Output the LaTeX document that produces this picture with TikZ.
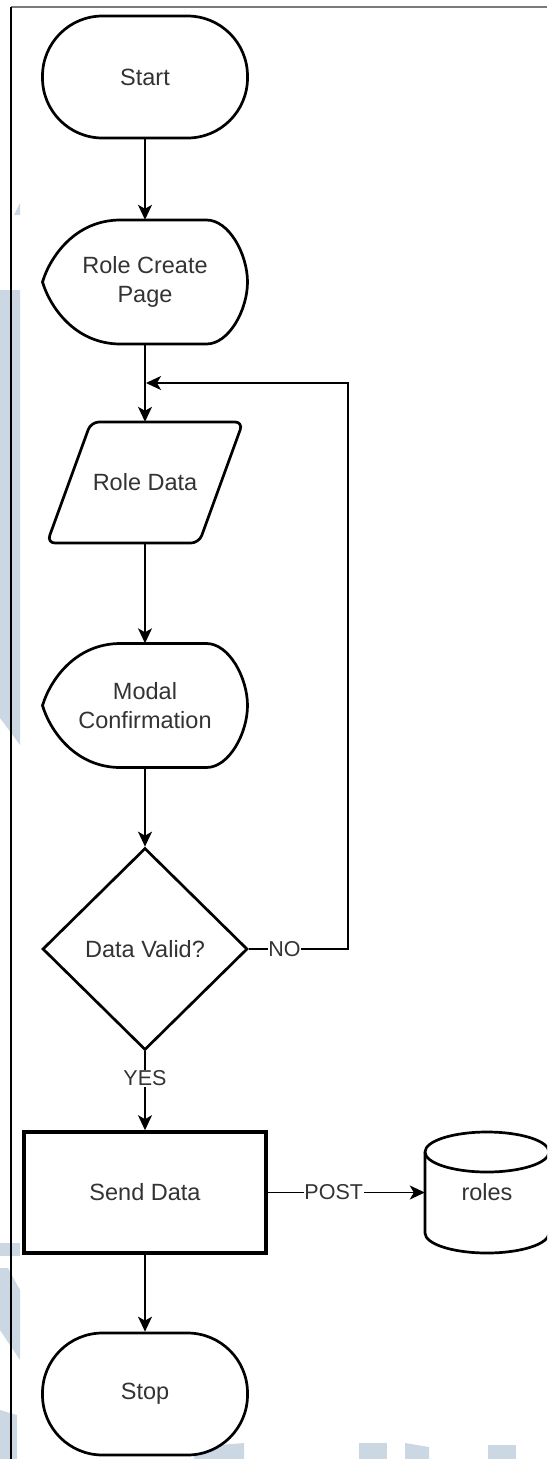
\documentclass[tikz,border=0pt]{standalone}
\usepackage{fontspec}
\setmainfont{Liberation Sans}
\usetikzlibrary{arrows.meta,shapes.geometric}
\definecolor{txtc}{HTML}{333333}
\definecolor{wmc}{HTML}{CBD7E2}
\definecolor{framec}{HTML}{7A7A7A}
\tikzset{
  outline/.style={line width=2.7pt, draw=black, fill=white, line join=round},
  conn/.style={line width=1.8pt, draw=black, -{Stealth[length=15pt,width=14pt,inset=4pt]}},
  lbl/.style={font=\fontsize{23.5}{29}\selectfont, text=txtc, align=center, inner sep=0pt},
  elbl/.style={font=\fontsize{21.5}{26}\selectfont, text=txtc, fill=white, inner xsep=0.5pt, inner ysep=1pt},
  term/.style={lbl, outline, rounded corners=60pt, minimum width=205pt, minimum height=122pt},
  holder/.style={lbl, minimum width=#1},
}
\newcommand\dispshape[1]{%
  \draw[outline, shift={(#1)}] (-102.5,0) .. controls (-95,-25) and (-70,-62) .. (-24.5,-62) -- (61.5,-62)
    .. controls (84,-62) and (102.5,-27.8) .. (102.5,0)
    .. controls (102.5,27.8) and (84,62) .. (61.5,62) -- (-24.5,62)
    .. controls (-70,62) and (-95,25) .. (-102.5,0) -- cycle;}
\begin{document}
\begin{tikzpicture}[x=1pt,y=-1pt]
\useasboundingbox (0,0) rectangle (547,1459);
\clip (0,0) rectangle (547,1459);
% watermark remnants
\fill[wmc] (0,290) -- (20,290) -- (20,745) -- (0,718) -- cycle;
\fill[wmc] (14,215) -- (20,203) -- (20,215) -- cycle;
\fill[wmc] (0,1243) rectangle (20,1256);
\fill[wmc] (0,1268) -- (8,1268) -- (20,1290) -- (20,1360) -- (0,1330) -- cycle;
\fill[wmc] (0,1410) -- (17,1415) -- (17,1459) -- (0,1459) -- cycle;
\fill[wmc] (194,1447) -- (244,1443) -- (244,1459) -- (194,1459) -- cycle;
\fill[wmc] (359,1443) rectangle (387,1459);
\fill[wmc] (405,1443) -- (429,1447) -- (429,1459) -- (405,1459) -- cycle;
\fill[wmc] (488,1445) rectangle (516,1459);
% frame
\draw[framec, line width=2pt] (11,7) -- (547,7);
\draw[black, line width=1.2pt] (11,7) -- (11,1459);

% nodes
\node[term] (start) at (145,77) {Start};

\coordinate (rcpc) at (145,282);
\dispshape{rcpc}
\node[holder=205pt, minimum height=124pt] (rcp) at (rcpc) {Role Create\\Page};

\coordinate (rdc) at (145,482.5);
\draw[outline, rounded corners=8pt, shift={(rdc)}] (-54,-60.5) -- (98,-60.5) -- (54,60.5) -- (-98,60.5) -- cycle;
\node[holder=196pt, minimum height=121pt] (rd) at (rdc) {Role Data};

\coordinate (mcc) at (145,705.5);
\dispshape{mcc}
\node[holder=205pt, minimum height=124pt] (mc) at (mcc) {Modal\\Confirmation};

\node[lbl, outline, diamond, minimum width=205pt, minimum height=202pt, line join=miter] (dv) at (145,949) {Data Valid?};

\node[lbl, outline, line width=3.6pt, minimum width=242pt, minimum height=121pt, line join=miter] (sd) at (145,1192.5) {Send Data};

\coordinate (dbc) at (487,1192.5);
\draw[outline, shift={(dbc)}] (-62,-40.5) -- (-62,40.5)
  .. controls (-62,51.5) and (-34.2,60.5) .. (0,60.5)
  .. controls (34.2,60.5) and (62,51.5) .. (62,40.5) -- (62,-40.5)
  .. controls (62,-51.5) and (34.2,-60.5) .. (0,-60.5)
  .. controls (-34.2,-60.5) and (-62,-51.5) .. (-62,-40.5) -- cycle;
\draw[outline, fill=none, shift={(dbc)}] (-62,-40.5)
  .. controls (-62,-29.5) and (-34.2,-20.5) .. (0,-20.5)
  .. controls (34.2,-20.5) and (62,-29.5) .. (62,-40.5);
\node[holder=124pt, minimum height=121pt] (db) at (dbc) {roles};

\node[term] (stop) at (145,1394) {Stop};

% connectors
\coordinate (loopc) at (348,383);
\coordinate (joinpt) at (146,383);
\draw[conn] (start.south) -- (rcp.north);
\draw[conn] (rcp.south) -- (rd.north);
\draw[conn] (rd.south) -- (mc.north);
\draw[conn] (mc.south) -- (dv.north);
\draw[conn] (dv.east) -- node[elbl,pos=0.36]{NO} (dv.east -| loopc) -- (loopc) -- (joinpt);
\draw[conn] (dv.south) -- node[elbl,pos=0.34]{YES} (sd.north);
\draw[conn] (sd.east) -- node[elbl,pos=0.42]{POST} (db.west);
\draw[conn] (sd.south) -- (stop.north);
\end{tikzpicture}
\end{document}
